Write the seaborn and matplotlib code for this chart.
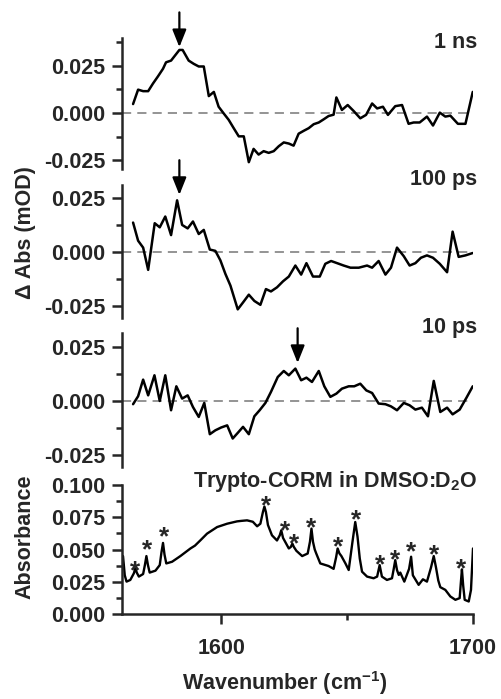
import numpy as np
import pandas as pd
import matplotlib
matplotlib.use("Agg")
import matplotlib.pyplot as plt
import seaborn as sns
from matplotlib.ticker import MultipleLocator, FormatStrFormatter

# transient IR difference spectra
wn_1ns = [1564.9, 1566.9, 1568.9, 1570.9, 1572.8, 1574.8, 1576.8, 1578.0, 1580.0, 1583.3,
          1584.6, 1587.0, 1589.0, 1591.0, 1593.0, 1595.0, 1597.0, 1598.9, 1600.9, 1602.9,
          1604.9, 1606.9, 1608.9, 1610.9, 1612.8, 1614.8, 1616.8, 1618.8, 1620.8, 1622.8,
          1624.8, 1626.8, 1628.7, 1630.7, 1632.7, 1634.7, 1636.7, 1638.7, 1640.7, 1642.6,
          1644.6, 1645.7, 1647.9, 1650.2, 1652.6, 1655.2, 1657.5, 1659.9, 1661.9, 1664.2,
          1666.2, 1669.1, 1671.8, 1674.4, 1676.4, 1678.8, 1681.7, 1684.1, 1686.8, 1689.0,
          1691.0, 1694.0, 1697.0, 1699.9]
dabs_1ns = [0.0047, 0.0123, 0.0115, 0.0115, 0.0155, 0.0193, 0.0233, 0.0267, 0.0276, 0.0332,
            0.0332, 0.0276, 0.0259, 0.0245, 0.0245, 0.0089, 0.0111, 0.0033, -0.0002, -0.0036,
            -0.0080, -0.0123, -0.0123, -0.0259, -0.0189, -0.0219, -0.0201, -0.0210, -0.0201, -0.0175,
            -0.0155, -0.0161, -0.0172, -0.0109, -0.0094, -0.0080, -0.0059, -0.0050, -0.0033, -0.0016,
            -0.0009, 0.0082, 0.0016, 0.0042, 0.0010, -0.0028, -0.0010, 0.0050, 0.0024, 0.0033,
            -0.0010, 0.0036, 0.0042, -0.0057, -0.0050, -0.0050, -0.0019, -0.0066, 0.0002, -0.0019,
            -0.0014, -0.0057, -0.0057, 0.0111]

wn_100ps = [1564.9, 1566.9, 1568.9, 1570.9, 1573.5, 1575.5, 1577.7, 1580.0, 1582.4, 1584.4,
            1586.6, 1588.7, 1591.0, 1593.0, 1595.4, 1597.6, 1599.6, 1601.6, 1603.6, 1606.5,
            1608.6, 1610.9, 1613.1, 1615.5, 1617.7, 1619.7, 1622.1, 1624.5, 1626.8, 1629.4,
            1631.7, 1633.8, 1636.4, 1639.1, 1641.3, 1643.6, 1646.0, 1648.6, 1651.3, 1654.6,
            1657.9, 1659.9, 1662.5, 1665.2, 1667.4, 1669.8, 1672.5, 1674.8, 1677.1, 1679.3,
            1681.7, 1684.1, 1686.8, 1689.7, 1691.9, 1694.3, 1697.0, 1699.9]
dabs_100ps = [0.0136, 0.0052, 0.0020, -0.0083, 0.0133, 0.0114, 0.0164, 0.0078, 0.0239, 0.0125,
              0.0109, 0.0141, 0.0083, 0.0102, 0.0011, 0.0005, -0.0039, -0.0102, -0.0156, -0.0266,
              -0.0234, -0.0198, -0.0227, -0.0245, -0.0172, -0.0183, -0.0164, -0.0136, -0.0114, -0.0063,
              -0.0105, -0.0052, -0.0114, -0.0114, -0.0055, -0.0042, -0.0052, -0.0063, -0.0073, -0.0073,
              -0.0063, -0.0073, -0.0042, -0.0105, -0.0073, 0.0020, -0.0020, -0.0063, -0.0052, -0.0027,
              -0.0016, -0.0027, -0.0055, -0.0094, 0.0094, -0.0023, -0.0016, -0.0005]

wn_10ps = [1564.9, 1566.9, 1568.9, 1570.9, 1573.4, 1575.5, 1577.7, 1580.0, 1582.1, 1584.4,
           1586.6, 1588.7, 1591.0, 1593.2, 1595.4, 1597.6, 1599.9, 1602.3, 1604.5, 1606.5,
           1608.6, 1610.9, 1613.1, 1615.2, 1617.5, 1619.7, 1622.4, 1624.8, 1626.8, 1629.4,
           1631.7, 1633.8, 1636.0, 1638.7, 1640.9, 1643.3, 1645.7, 1647.9, 1650.6, 1652.8,
           1655.2, 1657.6, 1659.9, 1662.5, 1665.2, 1667.4, 1669.8, 1672.5, 1674.8, 1677.1,
           1679.7, 1682.1, 1684.4, 1687.0, 1689.7, 1691.9, 1694.7, 1697.4, 1699.9]
dabs_10ps = [-0.0015, 0.0022, 0.0099, 0.0026, 0.0119, 0.0000, 0.0119, -0.0043, 0.0068, 0.0011,
             0.0026, -0.0028, -0.0074, -0.0009, -0.0154, -0.0136, -0.0123, -0.0113, -0.0174, -0.0148,
             -0.0120, -0.0154, -0.0071, -0.0043, -0.0009, 0.0042, 0.0111, 0.0139, 0.0119, 0.0150,
             0.0096, 0.0108, 0.0088, 0.0139, 0.0068, 0.0019, 0.0034, 0.0057, 0.0068, 0.0068,
             0.0080, 0.0049, 0.0037, -0.0012, -0.0015, -0.0025, -0.0043, -0.0009, -0.0020, -0.0040,
             -0.0031, -0.0071, 0.0093, -0.0051, -0.0031, -0.0062, -0.0040, 0.0015, 0.0068]

# FTIR absorbance spectrum
wn_ftir = [1560.9, 1561.6, 1562.3, 1563.8, 1565.2, 1565.8, 1566.4, 1567.2, 1568.9, 1569.6,
           1570.2, 1570.8, 1571.5, 1573.8, 1575.5, 1576.2, 1576.8, 1577.4, 1578.1, 1580.4,
           1583.7, 1587.7, 1589.5, 1591.7, 1594.3, 1598.3, 1602.3, 1606.2, 1608.0, 1610.2,
           1612.5, 1614.2, 1615.5, 1616.5, 1617.1, 1617.7, 1618.5, 1620.1, 1622.1, 1623.2,
           1623.8, 1624.5, 1626.8, 1627.6, 1628.2, 1628.8, 1629.8, 1632.1, 1634.3, 1635.2,
           1635.8, 1636.4, 1637.1, 1637.7, 1639.3, 1642.6, 1644.6, 1645.6, 1646.2, 1646.9,
           1647.7, 1649.3, 1650.6, 1652.1, 1653.2, 1654.1, 1655.0, 1655.9, 1657.9, 1660.5,
           1661.9, 1662.9, 1663.8, 1665.8, 1667.8, 1668.5, 1669.1, 1669.8, 1670.5, 1671.1,
           1672.7, 1674.6, 1675.4, 1676.1, 1678.4, 1680.1, 1681.7, 1683.3, 1684.4, 1685.3,
           1686.2, 1687.0, 1689.0, 1691.0, 1693.0, 1694.7, 1695.2, 1695.6, 1696.1, 1696.7,
           1698.3, 1699.2, 1700.0]
abs_ftir = [0.0449, 0.0300, 0.0251, 0.0264, 0.0315, 0.0354, 0.0320, 0.0290, 0.0310, 0.0380,
            0.0449, 0.0380, 0.0321, 0.0336, 0.0379, 0.0480, 0.0551, 0.0460, 0.0392, 0.0405,
            0.0449, 0.0508, 0.0530, 0.0572, 0.0623, 0.0674, 0.0700, 0.0718, 0.0722, 0.0726,
            0.0715, 0.0680, 0.0700, 0.0790, 0.0833, 0.0790, 0.0690, 0.0610, 0.0570, 0.0610,
            0.0649, 0.0590, 0.0508, 0.0520, 0.0546, 0.0520, 0.0490, 0.0449, 0.0469, 0.0560,
            0.0662, 0.0560, 0.0500, 0.0469, 0.0392, 0.0372, 0.0350, 0.0440, 0.0508, 0.0470,
            0.0449, 0.0392, 0.0341, 0.0560, 0.0713, 0.0600, 0.0430, 0.0328, 0.0290, 0.0277,
            0.0290, 0.0379, 0.0290, 0.0264, 0.0277, 0.0350, 0.0418, 0.0340, 0.0303, 0.0321,
            0.0251, 0.0350, 0.0444, 0.0300, 0.0226, 0.0269, 0.0251, 0.0360, 0.0449, 0.0360,
            0.0260, 0.0208, 0.0187, 0.0136, 0.0110, 0.0123, 0.0250, 0.0346, 0.0220, 0.0110,
            0.0097, 0.0187, 0.0508]

star_x = [1565.8, 1570.5, 1577.1, 1617.7, 1625.4, 1629.0, 1635.8, 1646.4, 1653.6,
          1663.2, 1669.1, 1675.5, 1684.4, 1695.2]
star_y = [0.0387, 0.0546, 0.0649, 0.0892, 0.0695, 0.0592, 0.0721, 0.0567, 0.0777,
          0.0431, 0.0469, 0.0533, 0.0508, 0.0397]

delay_labels = ["1 ns", "100 ps", "10 ps"]
arrow_x = [1583.3, 1583.3, 1630.3]
arrow_tip = [0.0347, 0.0264, 0.0176]

sns.set_style("ticks")
plt.rcParams["font.family"] = ["Liberation Sans", "DejaVu Sans"]
plt.rcParams["font.weight"] = "bold"
plt.rcParams["axes.unicode_minus"] = False
plt.rcParams["mathtext.fontset"] = "custom"
plt.rcParams["mathtext.rm"] = "Liberation Sans:bold"
plt.rcParams["mathtext.default"] = "rm"

FS = 15.5
W, H = 501, 699
fig = plt.figure(figsize=(W / 100, H / 100), dpi=100)

def px_axes(top, bottom):
    left, right = 122, 473
    return fig.add_axes([left / W, 1 - bottom / H, (right - left) / W, (bottom - top) / H])

def style_axis(ax, bottom_axis=False):
    ax.spines["top"].set_visible(False)
    ax.spines["right"].set_visible(False)
    for s in ax.spines.values():
        s.set_linewidth(1.8)
    ax.tick_params(axis="y", which="major", direction="out", length=7, width=1.8,
                   labelsize=FS, pad=5)
    ax.tick_params(axis="y", which="minor", direction="out", length=4, width=1.8)
    ax.set_xlim(1560.5, 1700)
    ax.set_xlabel("")
    ax.set_ylabel("")
    if bottom_axis:
        ax.xaxis.set_major_locator(MultipleLocator(100))
        ax.xaxis.set_minor_locator(MultipleLocator(50))
        ax.tick_params(axis="x", which="major", direction="out", length=7, width=1.8,
                       labelsize=FS, pad=10)
        ax.tick_params(axis="x", which="minor", direction="out", length=4, width=1.8)
    else:
        ax.spines["bottom"].set_visible(False)
        ax.set_xticks([])

panels = [
    (wn_1ns, dabs_1ns, 38, 169, (-0.0295, 0.0395), 43),
    (wn_100ps, dabs_100ps, 185, 318, (-0.0306, 0.031), 180),
    (wn_10ps, dabs_10ps, 333, 467, (-0.0306, 0.0315), 327),
]

for i, (wn, dabs, top, bot, ylim, label_y) in enumerate(panels):
    ax = px_axes(top, bot)
    df = pd.DataFrame({"wn": wn, "dabs": dabs})
    ax.axhline(0, color="#777777", lw=1.1, dashes=(6, 4), zorder=1)
    sns.lineplot(data=df, x="wn", y="dabs", ax=ax, color="black", lw=1.8, zorder=2)
    ax.set_ylim(*ylim)
    ax.yaxis.set_major_locator(MultipleLocator(0.025))
    ax.yaxis.set_minor_locator(MultipleLocator(0.0125))
    ax.yaxis.set_major_formatter(FormatStrFormatter("%.3f"))
    style_axis(ax)
    ax.annotate("", xy=(arrow_x[i], arrow_tip[i]), xytext=(0, 25), textcoords="offset points",
                arrowprops=dict(arrowstyle="-|>,head_length=0.7,head_width=0.28",
                                color="black", lw=1.6, mutation_scale=15,
                                shrinkA=0, shrinkB=0),
                annotation_clip=False)
    fig.text(477 / W, 1 - label_y / H, delay_labels[i], ha="right", va="center",
             fontsize=FS, fontweight="bold")

ax4 = px_axes(485, 614)
df_ftir = pd.DataFrame({"wn": wn_ftir, "absorbance": abs_ftir})
sns.lineplot(data=df_ftir, x="wn", y="absorbance", ax=ax4, color="black", lw=1.7)
ax4.set_ylim(0, 0.1)
ax4.yaxis.set_major_locator(MultipleLocator(0.025))
ax4.yaxis.set_minor_locator(MultipleLocator(0.0125))
ax4.yaxis.set_major_formatter(FormatStrFormatter("%.3f"))
style_axis(ax4, bottom_axis=True)
for sx, sy in zip(star_x, star_y):
    ax4.annotate("*", xy=(sx, sy), xytext=(0, -10), textcoords="offset points",
                 ha="center", va="baseline", fontsize=19, fontweight="bold")

fig.text(477 / W, 1 - 482 / H, "Trypto-CORM in DMSO:D$_2$O", ha="right", va="center",
         fontsize=FS, fontweight="bold")
fig.text(25 / W, 1 - 233 / H, "Δ Abs (mOD)", rotation=90, ha="center", va="center",
         fontsize=FS, fontweight="bold")
fig.text(25 / W, 1 - 537 / H, "Absorbance", rotation=90, ha="center", va="center",
         fontsize=FS, fontweight="bold")
fig.text(285 / W, 1 - 683 / H, "Wavenumber (cm$^{-1}$)", ha="center", va="center",
         fontsize=FS, fontweight="bold")

fig.savefig("out.png", dpi=100, facecolor="white")
